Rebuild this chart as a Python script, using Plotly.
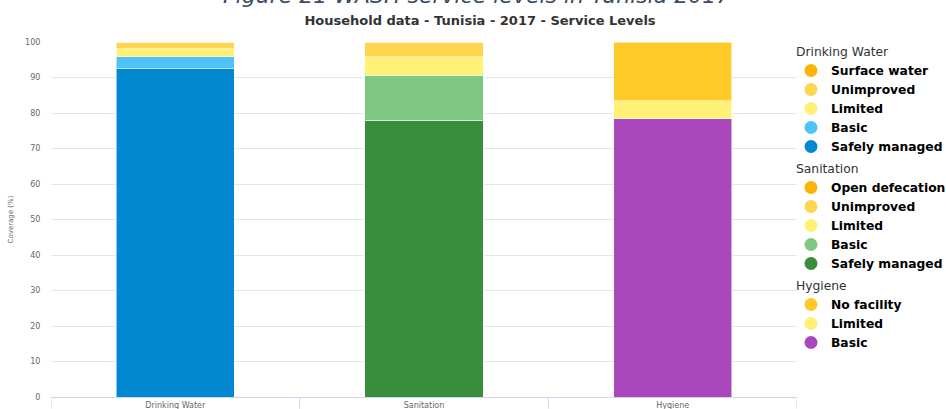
import plotly.graph_objects as go

# Service-level categories on the x axis
categories = ["Drinking Water", "Sanitation", "Hygiene"]

# Drinking water ladder (bottom to top of the stack)
dw_levels = ["Safely managed", "Basic", "Limited", "Unimproved", "Surface water"]
dw_values = [92.5, 3.4, 2.2, 1.9, 0.0]
dw_colors = ["#0288D1", "#4FC3F7", "#FFF176", "#FFD54F", "#FFB300"]

# Sanitation ladder (bottom to top)
san_levels = ["Safely managed", "Basic", "Limited", "Unimproved", "Open defecation"]
san_values = [77.9, 12.8, 5.2, 4.1, 0.0]
san_colors = ["#388E3C", "#81C784", "#FFF176", "#FFD54F", "#FFB300"]

# Hygiene ladder (bottom to top)
hyg_levels = ["Basic", "Limited", "No facility"]
hyg_values = [78.4, 5.0, 16.6]
hyg_colors = ["#AB47BC", "#FFF176", "#FFCA28"]

y_ticks = list(range(0, 101, 10))

FONT = "DejaVu Sans, Liberation Sans, Arial, sans-serif"

groups = [
    ("Drinking Water", categories[0], dw_levels, dw_values, dw_colors),
    ("Sanitation", categories[1], san_levels, san_values, san_colors),
    ("Hygiene", categories[2], hyg_levels, hyg_values, hyg_colors),
]

fig = go.Figure()

rank = 0
for gname, cat, levels, values, colors in groups:
    n = len(levels)
    # stacked segments, drawn bottom first
    for lvl, val, col in zip(levels, values, colors):
        fig.add_trace(go.Bar(
            x=[cat], y=[val], name=lvl,
            marker=dict(color=col, line=dict(color="rgba(255,255,255,0.55)", width=1)),
            width=0.475,
            showlegend=False,
            legendgroup=gname,
            hovertemplate=f"{gname} - {lvl}: %{{y}}%<extra></extra>",
        ))
    # circular legend entries, listed top of stack first
    for i in reversed(range(n)):
        rank += 1
        fig.add_trace(go.Scatter(
            x=[None], y=[None], mode="markers", name=f"<b>{levels[i]}</b>",
            marker=dict(color=colors[i], size=13, symbol="circle"),
            legendgroup=gname,
            legendgrouptitle=dict(text=gname, font=dict(size=12.3, color="#333333", family=FONT)),
            legendrank=rank,
            showlegend=True,
        ))

# tick marks on the category boundaries
for b in [-0.5, 0.5, 1.5, 2.5]:
    fig.add_shape(type="line", xref="x", yref="paper", x0=b, x1=b, y0=0, y1=-0.033,
                  line=dict(color="#ccd6eb", width=1), layer="above")

# document caption line, partly outside the page
fig.add_annotation(
    text="<i>Figure 21 WASH service levels in Tunisia 2017</i>",
    xref="paper", yref="paper", x=(476 - 51) / 746, y=1, xanchor="center", yanchor="bottom",
    yshift=32, showarrow=False,
    font=dict(size=22, color="#3B4C63", family=FONT),
)

fig.update_layout(
    width=946, height=409,
    margin=dict(l=51, r=149, t=42, b=12, autoexpand=False),
    paper_bgcolor="white", plot_bgcolor="white",
    barmode="stack",
    bargap=0.5,
    font=dict(family=FONT, color="#333333"),
    title=dict(
        text="<b>Household data - Tunisia - 2017 - Service Levels</b>",
        x=480 / 946, xref="container", xanchor="center",
        y=1 - 20 / 409, yref="container", yanchor="middle",
        font=dict(size=13, color="#333333", family=FONT),
    ),
    xaxis=dict(
        type="category", categoryorder="array", categoryarray=categories,
        range=[-0.5, 2.5],
        showline=True, linecolor="#ccd6eb", linewidth=1,
        showgrid=False, ticks="", ticklen=0,
        tickfont=dict(size=8, color="#666666"),
        automargin=False,
        fixedrange=True,
    ),
    yaxis=dict(
        range=[0, 100], tickvals=y_ticks,
        showgrid=True, gridcolor="#e6e6e6", gridwidth=1,
        zeroline=False, showline=False,
        ticks="outside", ticklen=8, tickcolor="rgba(0,0,0,0)",
        tickfont=dict(size=8, color="#666666"),
        title=dict(text="Coverage (%)", font=dict(size=7, color="#666666"), standoff=10),
        automargin=False,
        fixedrange=True,
    ),
    legend=dict(
        xref="container", yref="container",
        x=791 / 946, xanchor="left", y=1 - 37 / 409, yanchor="top",
        traceorder="grouped", tracegroupgap=3,
        font=dict(size=12.3, color="#000000", family=FONT),
        itemsizing="trace",
        bgcolor="rgba(0,0,0,0)",
        maxheight=400,
    ),
    showlegend=True,
)

fig.write_html("out.html")
